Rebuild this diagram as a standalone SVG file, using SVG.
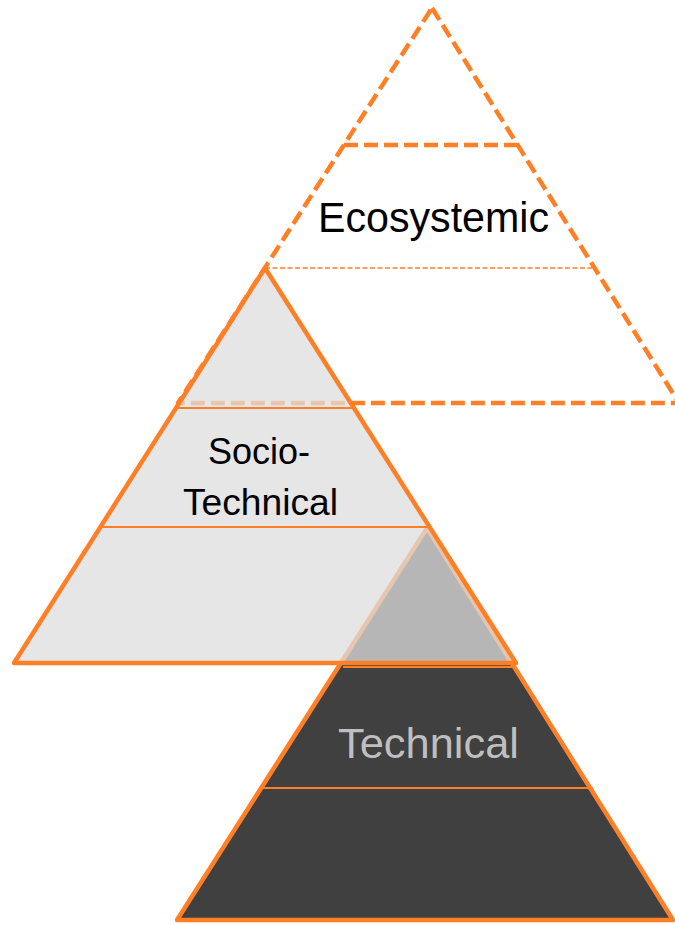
<svg xmlns="http://www.w3.org/2000/svg" width="675" height="925" viewBox="0 0 675 925">
  <style>
    .edge { fill: none; stroke: #FF7F27; stroke-linejoin: round; stroke-linecap: butt; }
    .dash { stroke-width: 4.5; stroke-dasharray: 14 6; }
    .thin-dash { stroke-width: 1.5; stroke-dasharray: 5 2.5; }
    .solid { stroke-width: 4.5; }
    .sep { stroke-width: 2.2; }
    .label { font-family: "Liberation Sans", Arial, sans-serif; text-anchor: middle; }
  </style>
  <rect x="0" y="0" width="675" height="925" fill="#FFFFFF"/>

  <g id="ecosystemic">
    <polygon class="edge dash" points="432,8 679,403 178,403"/>
    <line class="edge dash" x1="344" y1="145" x2="518" y2="145"/>
    <line class="edge thin-dash" x1="265" y1="268" x2="595" y2="268"/>
    <text class="label" x="433.5" y="232" font-size="42" fill="#000000" textLength="231" lengthAdjust="spacingAndGlyphs">Ecosystemic</text>
  </g>

  <g id="technical">
    <polygon points="427,528 673,920 177,920" fill="#404040" stroke="#FF7F27" stroke-width="4.5" stroke-linejoin="round"/>
    <line class="edge sep" x1="343" y1="667" x2="512" y2="667"/>
    <line class="edge sep" x1="262" y1="788" x2="593" y2="788"/>
    <text class="label" x="428.5" y="758" font-size="42" fill="#BFBFBF" textLength="181" lengthAdjust="spacingAndGlyphs">Technical</text>
  </g>

  <g id="socio-technical">
    <polygon points="265,268 516,663 14,663" fill="#DEDEDE" fill-opacity="0.75" stroke="none"/>
    <polygon class="edge solid" points="265,268 516,663 14,663"/>
    <line class="edge sep" x1="176" y1="408" x2="354" y2="408"/>
    <line class="edge sep" x1="101" y1="527" x2="429" y2="527"/>
    <text class="label" x="259" y="464" font-size="37" fill="#000000" textLength="102" lengthAdjust="spacingAndGlyphs">Socio-</text>
    <text class="label" x="260.5" y="515" font-size="37" fill="#000000" textLength="155" lengthAdjust="spacingAndGlyphs">Technical</text>
  </g>

  <g id="connectors"/>
</svg>
